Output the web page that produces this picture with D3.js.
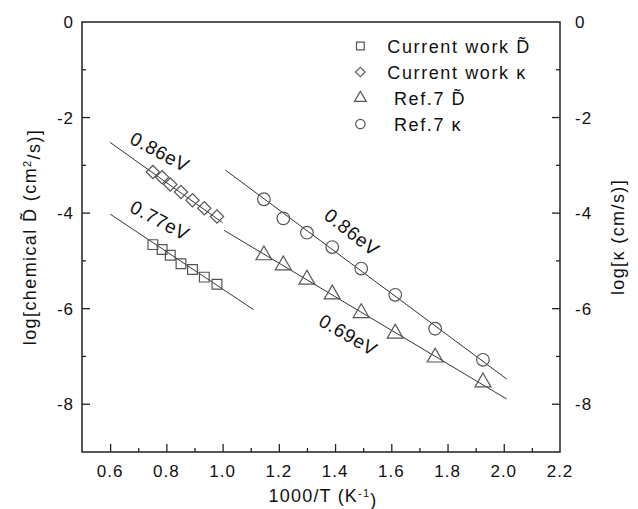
<!DOCTYPE html>
<meta charset="utf-8">
<head>
  <title>Arrhenius plot</title>
</head>
<style>
body { margin: 0; background: #fff; }
text { font-family: "Liberation Sans", Arial, sans-serif; fill: #111; }
.frame { fill: none; stroke: #222; stroke-width: 1.5px; }
.fit { fill: none; stroke: #333; stroke-width: 1px; }
.mark { fill: none; stroke: #555; stroke-width: 1.2px; }
</style>
<body>
<script src="https://d3js.org/d3.v7.min.js"></script>
<script>

// data (x = 1000/T in 1/K, y = log10 value)
var cwT  = [0.752, 0.785, 0.814, 0.852, 0.893, 0.935, 0.980];
var cwD  = [-4.66, -4.76, -4.88, -5.06, -5.18, -5.34, -5.49];
var cwK  = [-3.14, -3.25, -3.40, -3.56, -3.73, -3.90, -4.07];
var refT = [1.147, 1.216, 1.300, 1.390, 1.493, 1.614, 1.756, 1.926];
var refD = [-4.88, -5.09, -5.39, -5.70, -6.09, -6.52, -7.02, -7.54];
var refK = [-3.71, -4.11, -4.41, -4.71, -5.16, -5.71, -6.42, -7.07];

// fitted straight lines (end points)
var fitX = [[0.6, 1.0], [0.6, 1.11], [1.01, 2.01], [1.005, 2.01]];
var fitY = [[-2.52, -4.20], [-4.02, -6.02], [-3.10, -7.47], [-4.36, -7.89]];
var fitLabels = ["0.86eV", "0.77eV", "0.86eV", "0.69eV"];

var xTicks = [0.6, 0.8, 1.0, 1.2, 1.4, 1.6, 1.8, 2.0, 2.2];
var yTicks = [0, -2, -4, -6, -8];

var margin = {top: 22, right: 78, bottom: 57, left: 82},
    width = 638 - margin.left - margin.right,
    height = 509 - margin.top - margin.bottom;

var x = d3.scaleLinear().domain([0.5, 2.2]).range([0, width]);
var y = d3.scaleLinear().domain([-9, 0]).range([height, 0]);

var svg = d3.select("body").append("svg")
    .attr("width", 638)
    .attr("height", 509)
  .append("g")
    .attr("transform", "translate(" + margin.left + "," + margin.top + ")");

// fit lines
var line = d3.line()
    .x(function(d) { return x(d[0]); })
    .y(function(d) { return y(d[1]); });

fitX.forEach(function(xs, i) {
  svg.append("path")
      .attr("class", "fit")
      .attr("d", line(d3.zip(xs, fitY[i])));
});

// energy labels along the lines
var labelPos = [[0.777, -2.72, 28], [0.777, -4.15, 28], [1.46, -4.40, 38], [1.447, -6.55, 30]];
fitLabels.forEach(function(t, i) {
  var p = labelPos[i];
  svg.append("text")
      .attr("transform", "translate(" + x(p[0]) + "," + y(p[1]) + ") rotate(" + p[2] + ")")
      .attr("text-anchor", "middle")
      .attr("dy", "0.35em")
      .style("font-size", "19px")
      .style("letter-spacing", "0.6px")
      .text(t);
});

// markers
var sym = {
  square: d3.symbol().type(d3.symbolSquare).size(95),
  diamond: d3.symbol().type(d3.symbolSquare).size(88),
  triangle: d3.symbol().type(d3.symbolTriangle).size(110),
  circle: d3.symbol().type(d3.symbolCircle).size(125)
};

function points(xs, ys, shape) {
  svg.selectAll(null)
      .data(d3.zip(xs, ys))
    .enter().append("path")
      .attr("class", "mark")
      .attr("transform", function(d) {
        return "translate(" + x(d[0]) + "," + y(d[1]) + ")" + (shape === "diamond" ? " rotate(45)" : "");
      })
      .attr("d", sym[shape]);
}
points(cwT, cwD, "square");
points(cwT, cwK, "diamond");
points(refT, refD, "triangle");
points(refT, refK, "circle");

// axes: ticks point inward
var bottom = svg.append("g")
    .attr("transform", "translate(0," + height + ")")
    .call(d3.axisBottom(x).tickValues(d3.range(6, 22).map(function(v) { return v / 10; }))
      .tickSize(-8).tickFormat(""));
bottom.selectAll(".tick line").attr("y2", function(d) { return Math.round(d * 10) % 2 === 0 ? -8 : -4; });
bottom.select(".domain").remove();
bottom.selectAll(".tick line").style("stroke", "#222").style("stroke-width", "1.3px");

svg.selectAll(".xlab")
    .data(xTicks)
  .enter().append("text")
    .attr("x", function(d) { return x(d); })
    .attr("y", height + 25)
    .attr("text-anchor", "middle")
    .style("font-size", "17px")
    .style("letter-spacing", "1px")
    .text(function(d) { return d.toFixed(1); });

[[0, -1, 8], [width, 1, 15]].forEach(function(side) {
  var g = svg.append("g");
  g.selectAll("line")
      .data(d3.range(-8, 0))
    .enter().append("line")
      .attr("x1", side[0])
      .attr("x2", function(d) { return side[0] - side[1] * (d % 2 === 0 ? 8 : 4); })
      .attr("y1", function(d) { return y(d); })
      .attr("y2", function(d) { return y(d); })
      .style("stroke", "#222")
      .style("stroke-width", "1.3px");
  g.selectAll("text")
      .data(yTicks)
    .enter().append("text")
      .attr("x", side[0] + side[1] * side[2])
      .attr("y", function(d) { return y(d); })
      .attr("dy", "0.35em")
      .attr("text-anchor", side[1] < 0 ? "end" : "start")
      .style("font-size", "17px")
      .style("letter-spacing", "1px")
      .text(function(d) { return d === 0 ? "0" : "-" + Math.abs(d); });
});

svg.append("rect")
    .attr("class", "frame")
    .attr("width", width)
    .attr("height", height);

// axis titles
var xt = svg.append("text")
    .attr("x", width / 2 + 2)
    .attr("y", height + 50)
    .attr("text-anchor", "middle")
    .style("font-size", "18px")
    .style("letter-spacing", "1.2px");
xt.append("tspan").text("1000/T (K");
xt.append("tspan").attr("dy", "-0.5em").style("font-size", "11px").text("-1");
xt.append("tspan").attr("dy", "0.5em").text(")");

var yl = svg.append("text")
    .attr("transform", "translate(" + (-46) + "," + (height / 2) + ") rotate(-90)")
    .attr("text-anchor", "middle")
    .style("font-size", "18px")
    .style("letter-spacing", "1.4px");
yl.append("tspan").text("log[chemical D\u0303 (cm");
yl.append("tspan").attr("dy", "-0.5em").style("font-size", "11px").text("2");
yl.append("tspan").attr("dy", "0.5em").text("/s)]");

svg.append("text")
    .attr("transform", "translate(" + (width + 64) + "," + (height / 2) + ") rotate(-90)")
    .attr("text-anchor", "middle")
    .style("font-size", "18px")
    .style("letter-spacing", "1.4px")
    .text("log[\u03ba (cm/s)]");

// legend
var legNames = ["Current work D\u0303", "Current work \u03ba", " Ref.7 D\u0303", " Ref.7 \u03ba"];
var legShapes = ["square", "diamond", "triangle", "circle"];
var leg = svg.append("g").attr("transform", "translate(" + (x(1.49)) + "," + 24 + ")");
legNames.forEach(function(n, i) {
  var s = legShapes[i];
  leg.append("path")
      .attr("class", "mark")
      .attr("transform", "translate(0," + (i * 26) + ")" + (s === "diamond" ? " rotate(45)" : ""))
      .attr("d", d3.symbol().type(s === "triangle" ? d3.symbolTriangle :
                                 s === "circle" ? d3.symbolCircle : d3.symbolSquare)
                 .size(s === "circle" ? 70 : s === "diamond" ? 45 : 60)());
  leg.append("text")
      .attr("x", 27)
      .attr("y", i * 26)
      .attr("dy", "0.38em")
      .style("font-size", "18px")
      .style("letter-spacing", "1.6px")
      .style("white-space", "pre")
      .text(n);
});

</script>
</body>
